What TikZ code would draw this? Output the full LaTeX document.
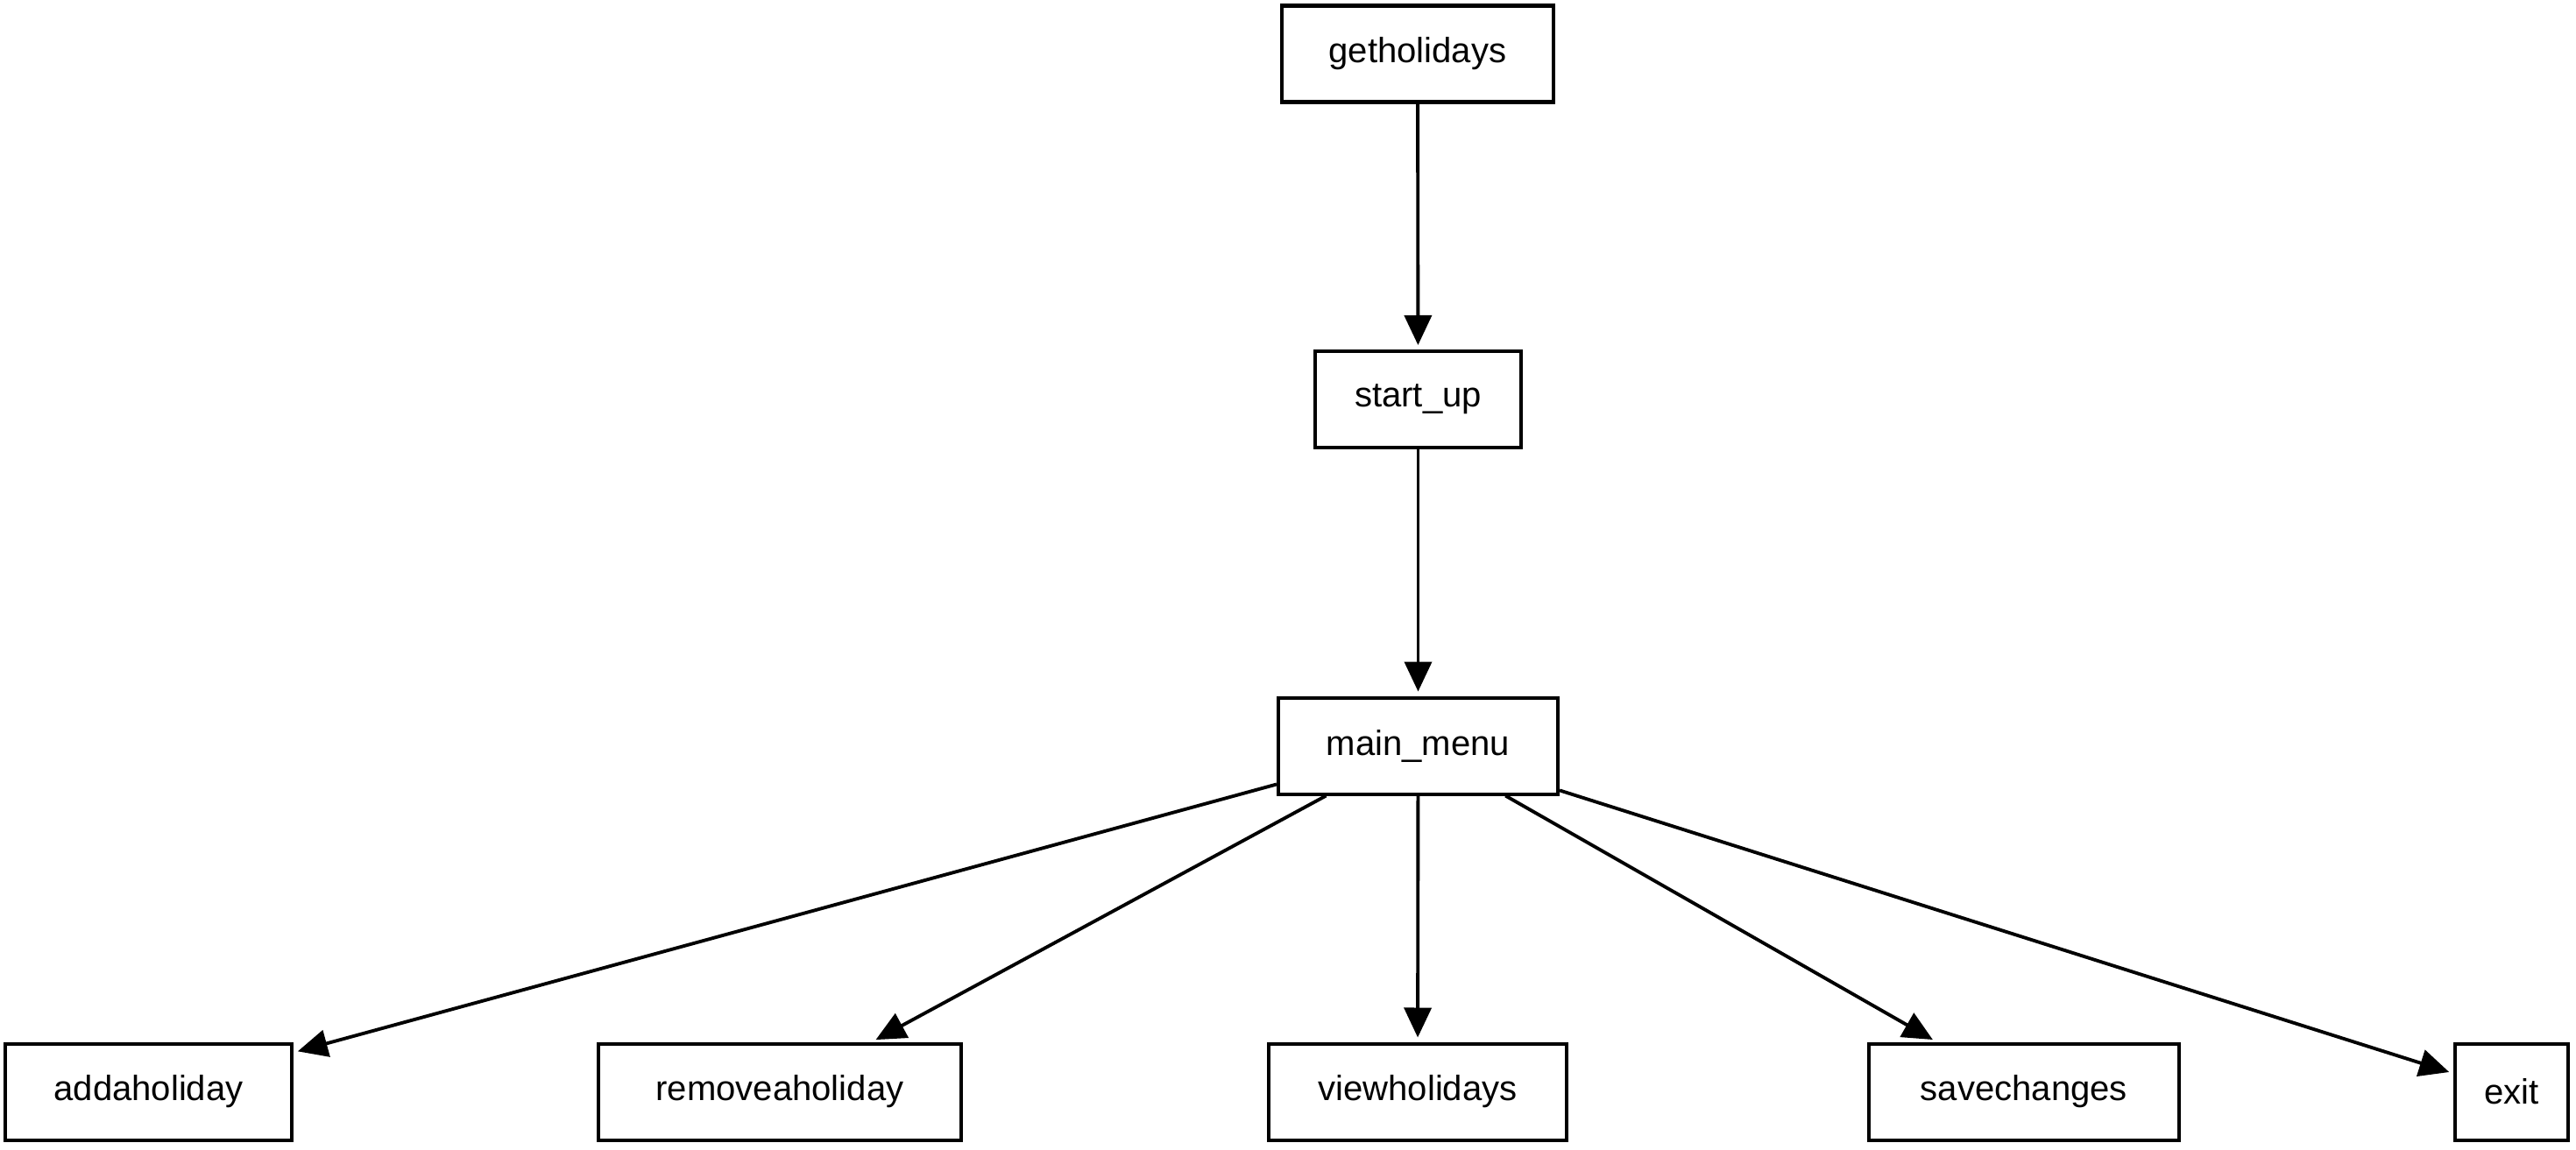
\documentclass[tikz,border=0pt]{standalone}
\usepackage{fontspec}
\setmainfont{Liberation Sans}
\usetikzlibrary{arrows.meta}
\begin{document}
\begin{tikzpicture}[
  box/.style={draw, line width=1.15pt, inner sep=0pt, minimum height=1.10cm,
              font=\fontsize{11.4pt}{13pt}\selectfont},
  link/.style={line width=1.1pt, -{Triangle[length=0.34cm,width=0.31cm]}, shorten >=0.05cm}
]
\useasboundingbox (0,0) rectangle (29.4,-13.12);

% call hierarchy
\node[box, minimum width=3.10cm] (get)   at (16.18,-0.615) {getholidays};
\node[box, minimum width=2.35cm] (start) at (16.185,-4.56) {start\_up};
\node[box, minimum width=3.19cm] (menu)  at (16.185,-8.515) {main\_menu};

\node[box, minimum width=3.27cm] (add)    at (1.695,-12.465) {addaholiday};
\node[box, minimum width=4.14cm] (remove) at (8.90,-12.465) {removeaholiday};
\node[box, minimum width=3.40cm] (view)   at (16.18,-12.465) {viewholidays};
\node[box, minimum width=3.54cm] (save)   at (23.10,-12.465) {savechanges};
\node[box, minimum width=1.29cm] (exit)   at (28.665,-12.465) {exit};

\draw[link] (get) -- (start);
\draw[link] (start) -- (menu);
\draw[link] (menu) -- (add);
\draw[link] (menu) -- (remove);
\draw[link] (menu) -- (view);
\draw[link] (menu) -- (save);
\draw[link] (menu) -- (exit);
\end{tikzpicture}
\end{document}
